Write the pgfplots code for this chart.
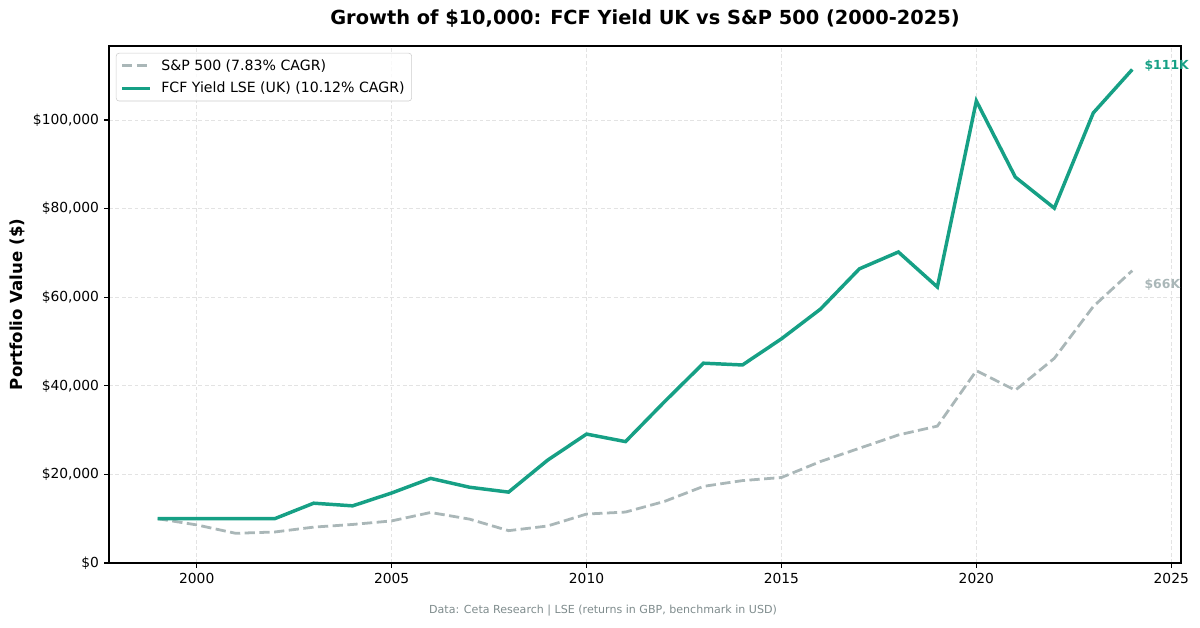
\documentclass[border=0pt]{standalone}
\usepackage{pgfplots}
\pgfplotsset{compat=1.18}
\usepackage{fontspec}
\setmainfont{DejaVu Sans}

\definecolor{fcfgreen}{HTML}{16A085}
\definecolor{spgray}{HTML}{AAB7B8}
\definecolor{footgray}{HTML}{7F8C8D}
\definecolor{gridgray}{HTML}{E3E3E3}

% 1 px of the 1200x628 reference = 0.72bp
\begin{document}
\begin{tikzpicture}
\useasboundingbox (-78.48bp,-46.8bp) rectangle ++(864bp,452.16bp);
\begin{axis}[
    at={(0,0)}, anchor=south west,
    scale only axis,
    width=771.84bp, height=372.24bp,
    clip mode=individual,
    xmin=1997.75, xmax=2025.25,
    ymin=0, ymax=116700,
    xtick={2000,2005,2010,2015,2020,2025},
    ytick={0,20000,40000,60000,80000,100000},
    yticklabels={\$0,\$20{,}000,\$40{,}000,\$60{,}000,\$80{,}000,\$100{,}000},
    scaled y ticks=false,
    /pgf/number format/1000 sep={},
    /pgf/number format/assume math mode=true,
    tick align=outside,
    xtick pos=bottom, ytick pos=left,
    major tick length=3.5bp,
    tick style={black, line width=0.8bp},
    axis line style={black, line width=0.8bp},
    ticklabel style={font=\fontsize{10}{12}\selectfont, inner sep=0pt},
    xticklabel style={yshift=-3.5bp},
    yticklabel style={xshift=-3.5bp},
    grid=major,
    major grid style={gridgray, line width=0.6bp, dash pattern=on 2.8bp off 1.8bp},
    legend style={
        at={(axis description cs:0,1)}, anchor=north west,
        xshift=5bp, yshift=-5bp,
        draw=black!20, rounded corners=2bp, fill=white, fill opacity=0.8, text opacity=1,
        font=\fontsize{10.2}{12}\selectfont,
        inner xsep=3bp, inner ysep=2.5bp,
        row sep=3bp,
        cells={anchor=west},
        /tikz/every odd column/.append style={column sep=5bp},
    },
    legend image code/.code={\draw[#1] (0bp,0bp) -- (20bp,0bp);},
]

% S&P 500
\addplot[spgray, line width=2bp, dash pattern=on 7.4bp off 3.2bp] coordinates {
    (1999,10000) (2000,8600) (2001,6700) (2002,7000) (2003,8100)
    (2004,8700) (2005,9500) (2006,11400) (2007,9900) (2008,7300)
    (2009,8350) (2010,11050) (2011,11500) (2012,13900) (2013,17300)
    (2014,18600) (2015,19300) (2016,22900) (2017,25900) (2018,28900)
    (2019,30900) (2020,43400) (2021,39000) (2022,46200) (2023,57900)
    (2024,66000)
};
\addlegendentry{S\&P 500 (7.83\% CAGR)}

% FCF Yield LSE
\addplot[fcfgreen, line width=2.5bp] coordinates {
    (1999,10000) (2000,10000) (2001,10000) (2002,10000) (2003,13500)
    (2004,12900) (2005,15800) (2006,19100) (2007,17100) (2008,16000)
    (2009,23200) (2010,29100) (2011,27400) (2012,36400) (2013,45100)
    (2014,44700) (2015,50600) (2016,57300) (2017,66400) (2018,70200)
    (2019,62300) (2020,104300) (2021,87100) (2022,80100) (2023,101600)
    (2024,111400)
};
\addlegendentry{FCF Yield LSE (UK) (10.12\% CAGR)}

\node[anchor=west, font=\bfseries\fontsize{9}{11}\selectfont, text=fcfgreen, inner sep=0pt, xshift=8.6bp, yshift=3bp]
    at (axis cs:2024,111400) {\$111K};
\node[anchor=west, font=\bfseries\fontsize{9}{11}\selectfont, text=spgray, inner sep=0pt, xshift=8.6bp, yshift=-10bp]
    at (axis cs:2024,66000) {\$66K};
\end{axis}

\node[font=\bfseries\fontsize{14}{17}\selectfont] at (385.92bp,391.68bp)
    {Growth of \$10,000: FCF Yield UK vs S\&P 500 (2000-2025)};
\node[font=\bfseries\fontsize{12}{14}\selectfont, rotate=90] at (-66.2bp,186.12bp)
    {Portfolio Value (\$)};
\node[font=\fontsize{8}{10}\selectfont, text=footgray] at (355.7bp,-34.56bp)
    {Data: Ceta Research | LSE (returns in GBP, benchmark in USD)};
\end{tikzpicture}
\end{document}
